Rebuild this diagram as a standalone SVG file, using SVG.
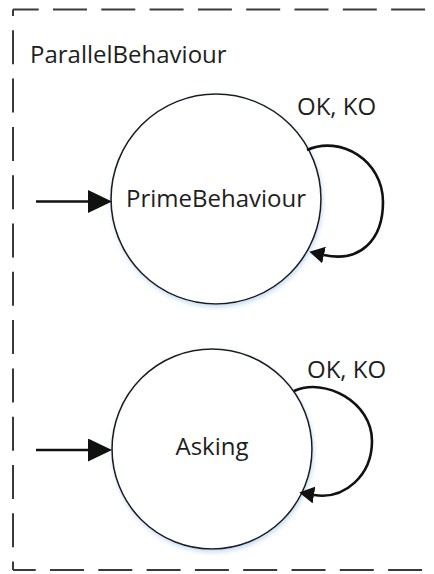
<svg xmlns="http://www.w3.org/2000/svg" width="434" height="574" viewBox="0 0 434 574">
  <style>
    .frame { fill: none; stroke: #3a3a3a; stroke-width: 2; stroke-dasharray: 34 14.3; }
    .state { fill: #ffffff; stroke: #1a1a1a; stroke-width: 1.6; filter: url(#glow); }
    .label { font-family: "Open Sans", "Liberation Sans", sans-serif; font-size: 24px; fill: #1e1e1e; }
    .center { text-anchor: middle; }
    .edge { fill: none; stroke: #111111; stroke-width: 2.6; }
    .init { marker-end: url(#headLarge); }
    .loop { marker-end: url(#headSmall); }
    .head { fill: #111111; }
  </style>
  <defs>
    <filter id="glow" x="-10%" y="-10%" width="120%" height="125%">
      <feDropShadow dx="1" dy="2.5" stdDeviation="2" flood-color="#9cc2e8" flood-opacity="0.55"/>
    </filter>
    <!-- arrowheads are anchored at their base; the tip extends past the path end -->
    <marker id="headLarge" markerUnits="userSpaceOnUse" viewBox="0 0 24 23" refX="0" refY="11.5" markerWidth="24" markerHeight="23" orient="auto">
      <path class="head" d="M0,0 L24,11.5 L0,23 Z"/>
    </marker>
    <marker id="headSmall" markerUnits="userSpaceOnUse" viewBox="0 0 15 17" refX="0" refY="8.5" markerWidth="15" markerHeight="17" orient="auto">
      <path class="head" d="M0,0 L15,8.5 L0,17 Z"/>
    </marker>
  </defs>

  <rect width="434" height="574" fill="#ffffff"/>

  <!-- composite state frame (right edge runs off the canvas) -->
  <g id="parallel-behaviour">
    <line class="frame" x1="13" y1="9.5" x2="440" y2="9.5" stroke-dashoffset="8.3"/>
    <line class="frame" x1="13" y1="9.5" x2="13" y2="570" stroke-dashoffset="27.5"/>
    <line class="frame" x1="13" y1="570" x2="440" y2="570" stroke-dashoffset="11.3"/>
    <text class="label" x="30" y="63">ParallelBehaviour</text>
  </g>

  <g id="prime-behaviour">
    <circle class="state" cx="216" cy="199" r="105"/>
    <text class="label center" x="216" y="207">PrimeBehaviour</text>
  </g>

  <g id="asking">
    <circle class="state" cx="212" cy="449" r="100"/>
    <text class="label center" x="212" y="455">Asking</text>
  </g>

  <g id="connectors">
    <!-- initial transitions -->
    <line class="edge init" x1="36" y1="201.5" x2="88" y2="201.5"/>
    <line class="edge init" x1="36" y1="450" x2="88" y2="450"/>
    <!-- self transitions -->
    <path class="edge loop" d="M307,150 C340,135 383,160 383,202 C383,240 360,263 324,255"/>
    <text class="label" x="297" y="115">OK, KO</text>
    <path class="edge loop" d="M294,391 C325,377 372,402 372,441 C372,475 345,500 314,495"/>
    <text class="label" x="307" y="378">OK, KO</text>
  </g>
</svg>
